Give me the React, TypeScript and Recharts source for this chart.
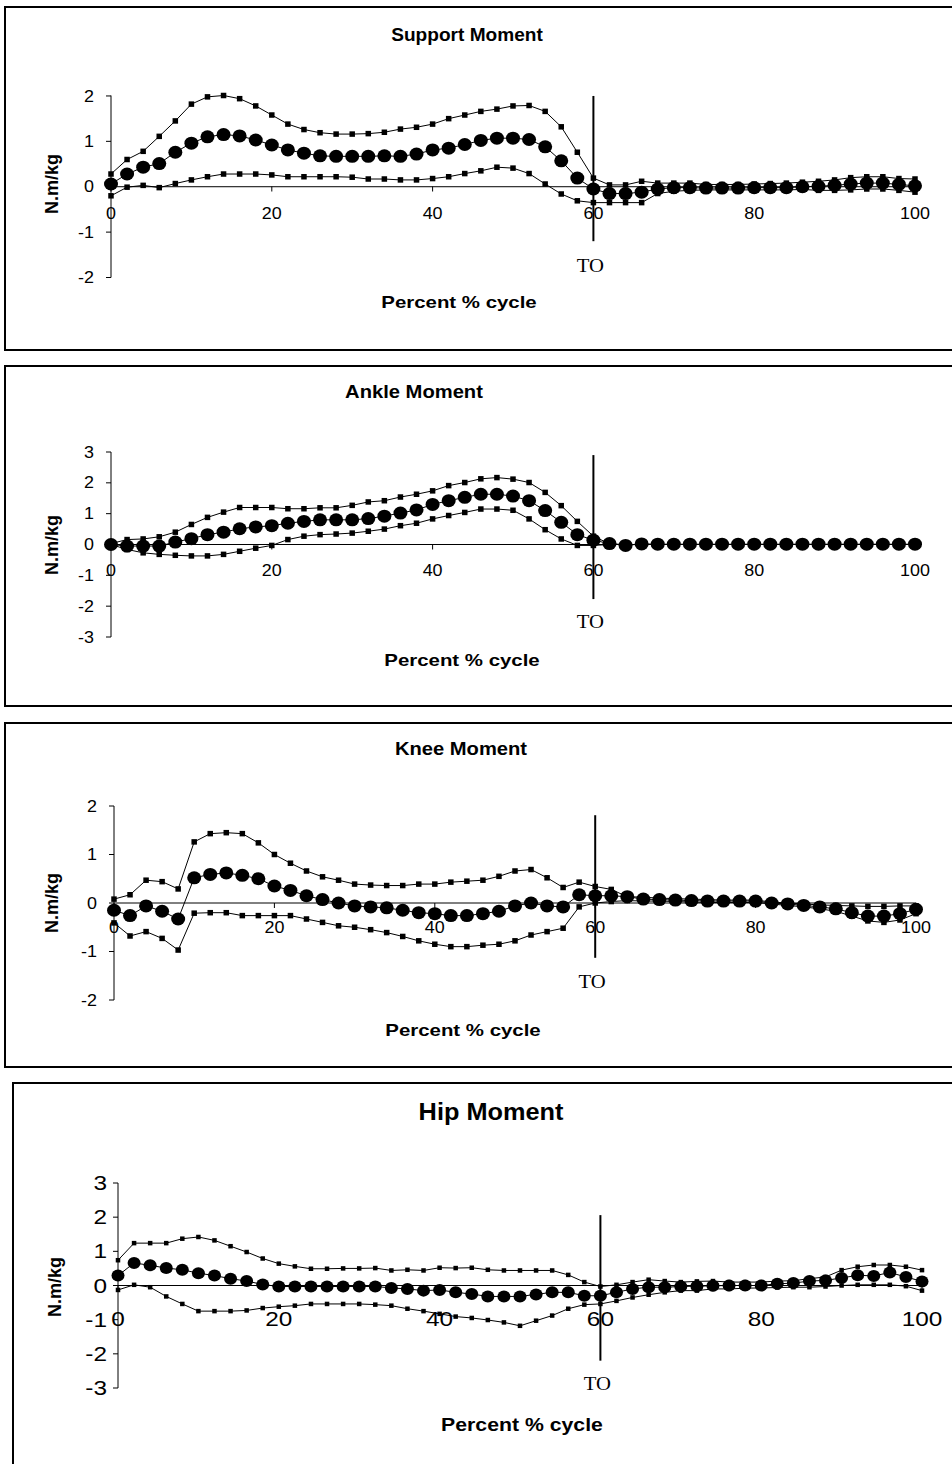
import React from "react";
import { LineChart, Line, XAxis, YAxis, ReferenceLine, ReferenceDot } from "recharts";

// percent of gait cycle, one sample every 2 %
const pct = [
  0, 2, 4, 6, 8, 10, 12, 14, 16, 18, 20, 22, 24, 26, 28, 30, 32, 34, 36, 38, 40, 42, 44, 46, 48, 50,
  52, 54, 56, 58, 60, 62, 64, 66, 68, 70, 72, 74, 76, 78, 80, 82, 84, 86, 88, 90, 92, 94, 96, 98, 100,
];
const xTicks = [0, 20, 40, 60, 80, 100];

// Support moment (N.m/kg): mean +/- 1 SD
const supportUpper = [
  0.28, 0.6, 0.78, 1.11, 1.45, 1.82, 1.98, 2.01, 1.94, 1.78, 1.58, 1.38, 1.26, 1.19, 1.16, 1.16, 1.17,
  1.2, 1.27, 1.31, 1.38, 1.5, 1.58, 1.66, 1.71, 1.78, 1.79, 1.66, 1.32, 0.76, 0.19, 0.04, 0.04, 0.12,
  0.08, 0.08, 0.08, 0.05, 0.05, 0.05, 0.06, 0.07, 0.08, 0.1, 0.12, 0.15, 0.2, 0.22, 0.22, 0.18, 0.17,
];
const supportMean = [
  0.06, 0.28, 0.43, 0.51, 0.76, 0.96, 1.1, 1.15, 1.12, 1.03, 0.92, 0.81, 0.74, 0.68, 0.67, 0.67, 0.67,
  0.68, 0.67, 0.72, 0.81, 0.85, 0.93, 1.02, 1.07, 1.07, 1.04, 0.88, 0.57, 0.19, -0.05, -0.15, -0.15,
  -0.12, -0.05, -0.02, -0.02, -0.03, -0.03, -0.03, -0.02, -0.02, -0.02, 0, 0.01, 0.03, 0.06, 0.08, 0.08,
  0.05, 0.02,
];
const supportLower = [
  -0.2, -0.01, 0.03, -0.02, 0.07, 0.15, 0.22, 0.28, 0.28, 0.28, 0.26, 0.22, 0.22, 0.22, 0.22, 0.21, 0.17,
  0.17, 0.15, 0.15, 0.18, 0.22, 0.29, 0.35, 0.43, 0.41, 0.29, 0.06, -0.16, -0.31, -0.35, -0.35, -0.35,
  -0.35, -0.15, -0.1, -0.08, -0.07, -0.07, -0.07, -0.07, -0.07, -0.07, -0.06, -0.08, -0.08, -0.07, -0.05,
  -0.05, -0.08, -0.12,
];

// Ankle moment
const ankleUpper = [
  0.03, 0.16, 0.18, 0.25, 0.4, 0.65, 0.88, 1.05, 1.2, 1.2, 1.2, 1.16, 1.16, 1.19, 1.19, 1.27, 1.38,
  1.42, 1.54, 1.63, 1.74, 1.91, 2.01, 2.13, 2.17, 2.12, 2.01, 1.69, 1.26, 0.75, 0.27, 0.02, 0, 0, 0, 0,
  0, 0, 0, 0, 0, 0, 0, 0, 0, 0, 0, 0, 0, 0, 0,
];
const ankleMean = [
  0, -0.05, -0.05, -0.05, 0.08, 0.19, 0.32, 0.4, 0.51, 0.57, 0.61, 0.69, 0.75, 0.8, 0.8, 0.8, 0.84, 0.92,
  1.02, 1.12, 1.3, 1.42, 1.53, 1.63, 1.63, 1.57, 1.42, 1.1, 0.72, 0.32, 0.14, 0.03, -0.03, 0.02, 0.01,
  0.01, 0.01, 0.01, 0.01, 0.01, 0.01, 0.01, 0.01, 0.01, 0.01, 0.01, 0.01, 0.01, 0.01, 0.01, 0.01,
];
const ankleLower = [
  0, -0.16, -0.27, -0.32, -0.35, -0.37, -0.37, -0.32, -0.22, -0.12, -0.03, 0.16, 0.27, 0.32, 0.34, 0.37,
  0.43, 0.5, 0.61, 0.69, 0.83, 0.94, 1.04, 1.15, 1.15, 1.11, 0.83, 0.48, 0.18, -0.03, -0.03, 0, 0, 0, 0,
  0, 0, 0, 0, 0, 0, 0, 0, 0, 0, 0, 0, 0, 0, 0, 0,
];

// Knee moment
const kneeUpper = [
  0.08, 0.17, 0.47, 0.44, 0.29, 1.26, 1.43, 1.45, 1.43, 1.24, 1.0, 0.82, 0.66, 0.54, 0.47, 0.39, 0.37,
  0.36, 0.36, 0.39, 0.39, 0.43, 0.45, 0.47, 0.55, 0.66, 0.69, 0.52, 0.32, 0.43, 0.34, 0.28, 0.13, 0.12,
  0.1, 0.09, 0.08, 0.07, 0.06, 0.06, 0.06, 0.02, 0, -0.02, -0.04, -0.05, -0.06, -0.07, -0.07, -0.06,
  -0.06,
];
const kneeMean = [
  -0.15, -0.26, -0.06, -0.17, -0.33, 0.52, 0.59, 0.62, 0.57, 0.5, 0.35, 0.26, 0.15, 0.07, 0, -0.06,
  -0.08, -0.1, -0.15, -0.2, -0.22, -0.26, -0.26, -0.22, -0.17, -0.06, 0, -0.06, -0.08, 0.17, 0.15, 0.15,
  0.13, 0.08, 0.07, 0.06, 0.05, 0.04, 0.04, 0.04, 0.04, 0, -0.02, -0.05, -0.08, -0.12, -0.2, -0.27,
  -0.27, -0.22, -0.13,
];
const kneeLower = [
  -0.41, -0.68, -0.59, -0.73, -0.97, -0.21, -0.2, -0.2, -0.26, -0.26, -0.26, -0.26, -0.33, -0.4, -0.47,
  -0.5, -0.55, -0.61, -0.69, -0.78, -0.85, -0.9, -0.9, -0.87, -0.85, -0.78, -0.66, -0.59, -0.52, -0.08,
  0, 0.03, 0.05, 0.04, 0.04, 0.03, 0.02, 0.01, 0.01, 0.01, 0.01, -0.02, -0.05, -0.08, -0.12, -0.17,
  -0.27, -0.37, -0.4, -0.35, -0.22,
];

// Hip moment
const hipUpper = [
  0.74, 1.24, 1.24, 1.24, 1.37, 1.42, 1.32, 1.15, 0.98, 0.79, 0.64, 0.56, 0.49, 0.49, 0.5, 0.5, 0.51,
  0.44, 0.46, 0.44, 0.52, 0.51, 0.52, 0.46, 0.44, 0.44, 0.44, 0.44, 0.31, 0.1, -0.03, 0.02, 0.1, 0.17,
  0.13, 0.1, 0.12, 0.13, 0.1, 0.1, 0.1, 0.13, 0.14, 0.2, 0.25, 0.45, 0.55, 0.6, 0.6, 0.55, 0.45,
];
const hipMean = [
  0.29, 0.66, 0.59, 0.51, 0.46, 0.36, 0.29, 0.2, 0.13, 0.03, -0.03, -0.03, -0.03, -0.03, -0.03, -0.03,
  -0.03, -0.07, -0.1, -0.15, -0.13, -0.2, -0.25, -0.32, -0.32, -0.32, -0.26, -0.2, -0.2, -0.3, -0.3,
  -0.2, -0.1, -0.05, -0.05, -0.03, -0.02, -0.01, 0, 0, 0, 0.05, 0.07, 0.13, 0.15, 0.22, 0.3, 0.28, 0.38,
  0.25, 0.12,
];
const hipLower = [
  -0.13, 0.02, -0.05, -0.32, -0.54, -0.75, -0.75, -0.75, -0.73, -0.66, -0.62, -0.59, -0.54, -0.54, -0.54,
  -0.54, -0.56, -0.59, -0.68, -0.75, -0.83, -0.91, -0.95, -1.01, -1.08, -1.18, -1.03, -0.88, -0.68,
  -0.56, -0.54, -0.45, -0.35, -0.27, -0.2, -0.15, -0.15, -0.1, -0.1, -0.08, -0.07, -0.06, -0.05, -0.05,
  -0.03, 0, 0.02, 0.02, 0.02, -0.02, -0.15,
];

const SANS = "'Liberation Sans', Arial, sans-serif";
const SERIF = "'Liberation Serif', 'Times New Roman', serif";
const PAGE_W = 952;
const AXIS_W = 40;
const XAXIS_H = 10;

const panels = [
  {
    title: "Support Moment", upper: supportUpper, mean: supportMean, lower: supportLower,
    top: 6, boxLeft: 4, boxH: 345, x0: 111, x100: 915, yTop: 95.5, yBot: 277.5,
    yMin: -2, yMax: 2, yTicks: [-2, -1, 0, 1, 2],
    titleX: 467, titleY: 35, titleFs: 18, titleSx: 1.06,
    xLabX: 459, xLabY: 302, xLabFs: 17, xLabSx: 1.2,
    yLabX: 52, yLabY: 184, yLabFs: 18,
    tickFs: 16, tickSx: 1.12, tickGap: 12, xTickDy: 27,
    toTop: 2.0, toBot: -1.2, toLab: -1.75, rx: 7, ry: 6.5, sq: 5.5,
  },
  {
    title: "Ankle Moment", upper: ankleUpper, mean: ankleMean, lower: ankleLower,
    top: 365, boxLeft: 4, boxH: 342, x0: 111, x100: 915, yTop: 452, yBot: 637,
    yMin: -3, yMax: 3, yTicks: [-3, -2, -1, 0, 1, 2, 3],
    titleX: 414, titleY: 392, titleFs: 18, titleSx: 1.12,
    xLabX: 462, xLabY: 660, xLabFs: 17, xLabSx: 1.2,
    yLabX: 52, yLabY: 545, yLabFs: 18,
    tickFs: 16, tickSx: 1.12, tickGap: 12, xTickDy: 26,
    toTop: 2.9, toBot: -1.77, toLab: -2.5, rx: 7, ry: 6.5, sq: 5.5,
  },
  {
    title: "Knee Moment", upper: kneeUpper, mean: kneeMean, lower: kneeLower,
    top: 722, boxLeft: 4, boxH: 346, x0: 114, x100: 916, yTop: 806, yBot: 1000,
    yMin: -2, yMax: 2, yTicks: [-2, -1, 0, 1, 2],
    titleX: 461, titleY: 749, titleFs: 18, titleSx: 1.12,
    xLabX: 463, xLabY: 1030, xLabFs: 17, xLabSx: 1.2,
    yLabX: 52, yLabY: 903, yLabFs: 18,
    tickFs: 16, tickSx: 1.12, tickGap: 12, xTickDy: 24,
    toTop: 1.81, toBot: -1.13, toLab: -1.63, rx: 7, ry: 6.5, sq: 5.5,
  },
  {
    title: "Hip Moment", upper: hipUpper, mean: hipMean, lower: hipLower,
    top: 1082, boxLeft: 12, boxH: 400, x0: 118, x100: 922, yTop: 1183, yBot: 1388,
    yMin: -3, yMax: 3, yTicks: [-3, -2, -1, 0, 1, 2, 3],
    titleX: 491, titleY: 1112, titleFs: 23, titleSx: 1.1,
    xLabX: 522, xLabY: 1425, xLabFs: 18, xLabSx: 1.18,
    yLabX: 55, yLabY: 1287, yLabFs: 18,
    tickFs: 20, tickSx: 1.22, tickGap: 6, xTickDy: 33,
    toTop: 2.06, toBot: -2.2, toLab: -2.88, rx: 6.5, ry: 6, sq: 4.5,
  },
];

type Cfg = (typeof panels)[number];

function XTick(props: any) {
  const { x, y, payload, lift, fs, sx, dy } = props;
  return (
    <g transform={`translate(${x},${y - lift})`}>
      <line x1={0} y1={0} x2={0} y2={5} stroke="#000" />
      <text transform={`translate(0,${dy}) scale(${sx},1)`} textAnchor="middle" dy="0.35em"
        fontSize={fs} fontFamily={SANS} fill="#000">
        {payload.value}
      </text>
    </g>
  );
}

function YTick(props: any) {
  const { x, y, payload, fs, sx } = props;
  return (
    <text transform={`translate(${x},${y}) scale(${sx},1)`} textAnchor="end" dy="0.35em"
      fontSize={fs} fontFamily={SANS} fill="#000">
      {payload.value}
    </text>
  );
}

function Text({ x, y, fs, sx = 1, bold = true, rotate = false, family = SANS, children }: any) {
  const t = rotate
    ? "translate(-50%,-50%) rotate(-90deg)"
    : `translate(-50%,-50%) scaleX(${sx})`;
  return (
    <div style={{
      position: "absolute", left: x, top: y, transform: t, fontFamily: family, fontSize: fs,
      fontWeight: bold ? 700 : 400, whiteSpace: "nowrap", lineHeight: 1, color: "#000",
    }}>
      {children}
    </div>
  );
}

function Panel({ cfg }: { cfg: Cfg }) {
  const rows = pct.map((p, i) => ({ pct: p, upper: cfg.upper[i], mean: cfg.mean[i], lower: cfg.lower[i] }));
  const plotH = cfg.yBot - cfg.yTop;
  const lift = (plotH * (0 - cfg.yMin)) / (cfg.yMax - cfg.yMin);
  const margin = {
    top: cfg.yTop - cfg.top,
    left: cfg.x0 - AXIS_W,
    right: PAGE_W - cfg.x100,
    bottom: cfg.top + cfg.boxH - cfg.yBot - XAXIS_H,
  };
  const square = (p: any) =>
    p.cx == null ? null : (
      <rect key={p.index} x={p.cx - cfg.sq / 2} y={p.cy - cfg.sq / 2} width={cfg.sq} height={cfg.sq} fill="#000" />
    );
  const blob = (p: any) =>
    p.cx == null ? null : <ellipse key={p.index} cx={p.cx} cy={p.cy} rx={cfg.rx} ry={cfg.ry} fill="#000" />;

  return (
    <>
      <div style={{
        position: "absolute", left: cfg.boxLeft, top: cfg.top, width: 980, height: cfg.boxH,
        border: "2px solid #000", boxSizing: "border-box",
      }} />
      <div style={{ position: "absolute", left: 0, top: cfg.top }}>
        <LineChart width={PAGE_W} height={cfg.boxH} data={rows} margin={margin}>
          <XAxis dataKey="pct" type="number" domain={[0, 100]} ticks={xTicks} interval={0}
            height={XAXIS_H} axisLine={false} tickLine={false} tickSize={0} tickMargin={0}
            tick={<XTick lift={lift} fs={cfg.tickFs} sx={cfg.tickSx} dy={cfg.xTickDy} />} />
          <YAxis type="number" domain={[cfg.yMin, cfg.yMax]} ticks={cfg.yTicks} interval={0} width={AXIS_W}
            axisLine={{ stroke: "#000" }} tickLine={{ stroke: "#000" }} tickSize={5} tickMargin={cfg.tickGap}
            tick={<YTick fs={cfg.tickFs} sx={cfg.tickSx} />} />
          <ReferenceLine y={0} stroke="#000" strokeWidth={1} />
          <ReferenceLine segment={[{ x: 60, y: cfg.toTop }, { x: 60, y: cfg.toBot }]} stroke="#000" strokeWidth={2} />
          <ReferenceDot x={60} y={cfg.toLab} r={0}
            shape={(p: any) => (
              <text transform={`translate(${p.cx - 3},${p.cy}) scale(1.15,1)`} textAnchor="middle" dy="0.35em"
                fontSize={18} fontFamily={SERIF} fill="#000">TO</text>
            )} />
          <Line dataKey="upper" type="linear" stroke="#000" strokeWidth={1} dot={square} activeDot={false}
            isAnimationActive={false} />
          <Line dataKey="lower" type="linear" stroke="#000" strokeWidth={1} dot={square} activeDot={false}
            isAnimationActive={false} />
          <Line dataKey="mean" type="linear" stroke="#000" strokeWidth={1} dot={blob} activeDot={false}
            isAnimationActive={false} />
        </LineChart>
      </div>
      <Text x={cfg.titleX} y={cfg.titleY} fs={cfg.titleFs} sx={cfg.titleSx}>{cfg.title}</Text>
      <Text x={cfg.xLabX} y={cfg.xLabY} fs={cfg.xLabFs} sx={cfg.xLabSx}>Percent % cycle</Text>
      <Text x={cfg.yLabX} y={cfg.yLabY} fs={cfg.yLabFs} rotate>N.m/kg</Text>
    </>
  );
}

export default function App() {
  return (
    <div style={{
      position: "fixed", left: 0, top: 0, width: PAGE_W, height: 1464, overflow: "hidden", background: "#fff",
    }}>
      {panels.map((cfg) => (
        <Panel key={cfg.title} cfg={cfg} />
      ))}
    </div>
  );
}
